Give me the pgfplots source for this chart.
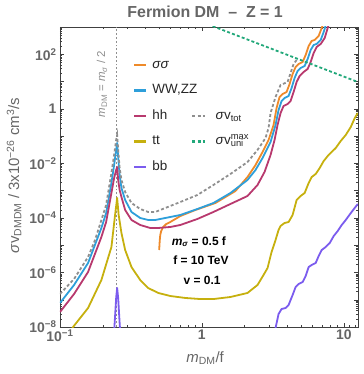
\documentclass[border=0pt]{standalone}
\usepackage{fontspec}
\setmainfont{Liberation Sans}
\usepackage{pgfplots}
\pgfplotsset{compat=1.18}
\definecolor{corange}{HTML}{EE8A2A}
\definecolor{cblue}{HTML}{2E9FDA}
\definecolor{cmag}{HTML}{B8396E}
\definecolor{cyel}{HTML}{C6B00E}
\definecolor{cpur}{HTML}{7B5CEE}
\definecolor{cgreen}{HTML}{22A87A}
\definecolor{cgray}{HTML}{8F8F8F}
\definecolor{labgray}{HTML}{666666}
\begin{document}
\begin{tikzpicture}
\path[use as bounding box] (-60bp,-47bp) rectangle (304bp,327bp);
\begin{axis}[
  scale only axis, width=298bp, height=300bp,
  at={(0,0)}, anchor=south west,
  xmode=log, ymode=log, xmin=0.1, xmax=12.6, ymin=1e-8, ymax=1000,
  clip mode=individual,
  legend style={draw=none, fill=none, inner sep=0pt, row sep=13bp,
      nodes={inner sep=0pt, text height=9.5bp, text depth=3bp,
        font=\fontsize{13.5}{15}\selectfont, text=black!85},
      at={(axis description cs:0.245,0.895)}, anchor=north west,
      /tikz/every odd column/.append style={column sep=5bp}},
  legend cell align=left,
  axis line style={black!75},
  every tick/.style={black!75},
  major tick length=4bp, minor tick length=2.5bp,
  xtick={0.1,1,10},
  xticklabels={10\textsuperscript{−1},1,10},
  minor xtick={0.2,0.3,0.4,0.5,0.6,0.7,0.8,0.9,2,3,4,5,6,7,8,9,11,12},
  ytick={1e-8,1e-7,1e-6,1e-5,1e-4,1e-3,1e-2,1e-1,1,10,100,1000},
  yticklabels={10\textsuperscript{−8},{},10\textsuperscript{−6},{},10\textsuperscript{−4},{},10\textsuperscript{−2},{},1,{},10\textsuperscript{2},{}},
  minor ytick={2e-8,3e-8,4e-8,5e-8,6e-8,7e-8,8e-8,9e-8,
    2e-7,3e-7,4e-7,5e-7,6e-7,7e-7,8e-7,9e-7,
    2e-6,3e-6,4e-6,5e-6,6e-6,7e-6,8e-6,9e-6,
    2e-5,3e-5,4e-5,5e-5,6e-5,7e-5,8e-5,9e-5,
    2e-4,3e-4,4e-4,5e-4,6e-4,7e-4,8e-4,9e-4,
    2e-3,3e-3,4e-3,5e-3,6e-3,7e-3,8e-3,9e-3,
    2e-2,3e-2,4e-2,5e-2,6e-2,7e-2,8e-2,9e-2,
    0.2,0.3,0.4,0.5,0.6,0.7,0.8,0.9,
    2,3,4,5,6,7,8,9,20,30,40,50,60,70,80,90,200,300,400,500,600,700,800,900},
  tick label style={font=\fontsize{14}{16}\selectfont\bfseries, text=labgray},
  xticklabel style={yshift=1bp},
  legend image code/.code={\draw[#1, line width=2.2bp] (0bp,0bp) -- (12bp,0bp);},
  every axis plot/.append style={line width=1.8bp, line join=round},
]
\addplot[cgray, dotted, line width=0.9bp, forget plot] coordinates {(0.25,1e-8) (0.25,1000)};

% sigma sigma
\addplot[corange] coordinates {
(0.5000,6.66e-6) (0.505,1.55e-5) (0.509,2.37e-5) (0.517,3.31e-5) (0.534,4.65e-5)
(0.561,5.98e-5) (0.599,7.08e-5) (0.705,1.17e-4) (0.900,1.95e-4) (1.246,3.52e-4)
(1.725,9.70e-4) (2.097,3.16e-3) (2.388,8.71e-3) (2.677,2.61e-2) (2.951,7.20e-2)
(3.201,0.255) (3.361,1.07) (3.529,2.72) (3.706,3.50) (3.955,4.15) (4.153,8.15)
(4.361,18.9) (4.579,34.2) (4.808,44.0) (5.131,52.1) (5.389,94.2) (5.658,201)
(5.941,308) (6.239,334) (6.658,469) (6.991,921) (7.341,1810)
};
\addlegendentry{\textit{σσ}}

% WW,ZZ
\addplot[cblue] coordinates {
(0.1,7.59e-8) (0.1256,3.47e-7) (0.1577,2.22e-6) (0.1958,4.27e-5) (0.2114,1.51e-4)
(0.2304,1.91e-3) (0.2407,8.71e-3) (0.2488,3.10e-2) (0.2528,5.59e-2)
(0.2570,1.71e-2) (0.2633,3.75e-3) (0.2711,1.25e-3) (0.2879,4.54e-4) (0.3191,1.65e-4)
(0.3675,9.93e-5) (0.4185,8.39e-5) (0.4691,8.39e-5) (0.5521,9.93e-5) (0.7049,1.28e-4)
(0.9295,2.12e-4) (1.206,3.52e-4) (1.590,8.19e-4) (2.097,2.46e-3) (2.388,5.71e-3)
(2.677,1.57e-2) (3.049,6.08e-2) (3.306,0.255) (3.472,0.906) (3.646,1.94) (3.828,2.50)
(4.086,2.96) (4.290,5.81) (4.505,13.5) (4.730,24.4) (4.967,31.4) (5.301,37.2)
(5.567,67.3) (5.846,144) (6.138,219) (6.445,239) (6.879,334) (7.223,658) (7.584,1530)
};
\addlegendentry{WW,ZZ}

% hh
\addplot[cmag] coordinates {
(0.1,3.55e-8) (0.1256,1.62e-7) (0.1577,1.04e-6) (0.1958,2.00e-5) (0.2114,7.08e-5)
(0.2304,8.19e-4) (0.2407,2.91e-3) (0.2488,5.71e-3) (0.2528,7.36e-3)
(0.2570,2.46e-3) (0.2633,1.06e-3) (0.2711,5.85e-4) (0.2879,1.95e-4) (0.3191,8.39e-5)
(0.3675,5.50e-5) (0.4326,4.27e-5) (0.4928,4.27e-5) (0.5988,4.65e-5) (0.7049,5.50e-5)
(0.9295,9.13e-5) (1.206,1.65e-4) (1.590,3.24e-4) (2.097,6.36e-4) (2.467,1.61e-3)
(2.765,4.83e-3) (3.049,2.03e-2) (3.253,7.20e-2) (3.415,0.255) (3.587,0.703)
(3.767,1.27) (4.020,1.50) (4.221,1.94) (4.432,4.15) (4.654,9.64) (4.887,16.0)
(5.216,22.4) (5.567,28.9) (5.846,52.1) (6.138,112) (6.445,185) (6.879,239)
(7.341,396) (7.708,921) (8.093,2140)
};
\addlegendentry{hh}

% tt
\addplot[cyel] coordinates {
(0.1,1.44e-9) (0.1236,1e-8) (0.1577,4.97e-8) (0.1958,5.29e-7) (0.2304,8.59e-6)
(0.2435,1.08e-4) (0.2528,5.37e-4)
(0.2591,1.28e-4) (0.2711,2.80e-5) (0.2879,6.66e-6) (0.3191,1.58e-6) (0.3675,5.29e-7)
(0.4185,2.69e-7) (0.4928,1.77e-7) (0.5988,1.37e-7) (0.7646,1.16e-7) (0.9759,1.06e-7)
(1.206,1.06e-7) (1.590,1.26e-7) (2.097,1.77e-7) (2.467,3.47e-7) (2.720,8.07e-7)
(2.904,1.46e-6) (3.099,5.62e-6) (3.306,1.55e-5) (3.472,3.61e-5) (3.587,5.06e-5)
(3.828,6.51e-5) (4.086,7.08e-5) (4.361,1.28e-4) (4.654,4.54e-4) (4.967,6.36e-4)
(5.301,8.19e-4) (5.658,1.91e-3) (5.941,3.16e-3) (6.341,4.08e-3) (6.768,6.76e-3)
(7.223,1.22e-2) (7.708,1.86e-2) (8.226,2.61e-2) (8.779,3.66e-2) (9.524,6.62e-2)
(10.33,0.110) (11.21,0.216) (11.96,0.461) (12.56,0.703)
};
\addlegendentry{tt}

% bb
\addplot[cpur] coordinates {
(0.2388,3.33e-9) (0.2447,2.75e-8) (0.2488,1.16e-7) (0.2528,2.69e-7) (0.2570,1.16e-7)
(0.2612,2.75e-8) (0.2677,3.33e-9)
};
\addlegendentry{bb}
\addplot[cpur, forget plot] coordinates {
(3.149,2.19e-9) (3.306,9.19e-9) (3.472,3.00e-8) (3.646,4.57e-8) (3.891,4.97e-8)
(4.086,6.41e-8) (4.361,1.49e-7) (4.579,2.93e-7) (4.808,3.78e-7) (5.131,4.47e-7)
(5.389,7.41e-7) (5.658,1.58e-6) (5.941,1.88e-6) (6.341,2.22e-6) (6.658,4.02e-6)
(6.991,6.66e-6) (7.462,8.59e-6) (7.963,1.20e-5) (8.497,2.17e-5) (9.070,3.31e-5)
(9.680,5.50e-5) (10.33,8.39e-5) (11.21,1.51e-4) (12.56,3.24e-4)
};

\node[font=\fontsize{12}{14}\selectfont\bfseries, anchor=center] at (axis description cs:0.466,0.284) {\textit{m}\textsubscript{\textit{σ}} = 0.5 f};
\node[font=\fontsize{12}{14}\selectfont\bfseries, anchor=center] at (axis description cs:0.473,0.221) {f = 10 TeV};
\node[font=\fontsize{12}{14}\selectfont\bfseries, anchor=center] at (axis description cs:0.477,0.157) {v = 0.1};
\node[rotate=90, text=cgray, font=\fontsize{11.5}{13}\selectfont, anchor=center] at (axis description cs:0.141,0.81) {\textit{m}\textsubscript{DM} = \textit{m}\textsubscript{\textit{σ}} / 2};
\node[text=labgray, font=\fontsize{16}{18}\selectfont\bfseries, anchor=center] at (axis description cs:0.487,1.05) {Fermion DM \ – \ Z = 1};
\node[text=labgray, font=\fontsize{15}{17}\selectfont, anchor=center, rotate=90] at (axis description cs:-0.154,0.505) {\textit{σ}v\textsubscript{DMDM} / 3x10\textsuperscript{−26} cm\textsuperscript{3}/s};
\node[text=labgray, font=\fontsize{15}{17}\selectfont, anchor=center] at (axis description cs:0.487,-0.103) {\textit{m}\textsubscript{DM}/f};
\end{axis}

\begin{axis}[
  scale only axis, width=298bp, height=300bp,
  at={(0,0)}, anchor=south west,
  xmode=log, ymode=log, xmin=0.1, xmax=12.6, ymin=1e-8, ymax=1000,
  hide axis,
  legend style={draw=none, fill=none, inner sep=0pt, row sep=13bp,
      nodes={inner sep=0pt, text height=9.5bp, text depth=3bp,
        font=\fontsize{13.5}{15}\selectfont, text=black!85},
      at={(axis description cs:0.44,0.725)}, anchor=north west,
      /tikz/every odd column/.append style={column sep=9bp}},
  legend cell align=left,
  legend image code/.code={\draw[#1, line width=2.2bp] (0bp,0bp) -- (13bp,0bp);},
  every axis plot/.append style={line width=1.8bp},
]
\addplot[cgray, dash pattern=on 3bp off 2.2bp] coordinates {
(0.1000,1.62e-7) (0.1256,5.75e-7) (0.1577,3.69e-6) (0.1767,1.55e-5) (0.1958,8.39e-5)
(0.2114,2.98e-4) (0.2304,4.44e-3) (0.2407,2.03e-2) (0.2488,7.20e-2) (0.2528,0.110)
(0.2570,3.10e-2) (0.2633,6.76e-3) (0.2711,2.46e-3) (0.2879,8.91e-4) (0.3191,3.52e-4)
(0.3675,2.12e-4) (0.4185,1.65e-4) (0.4691,1.65e-4) (0.5521,2.31e-4) (0.7049,3.83e-4)
(0.9295,6.92e-4) (1.206,1.61e-3) (1.590,4.08e-3) (2.097,1.12e-2) (2.467,3.10e-2)
(2.811,8.53e-2) (2.951,0.198) (3.049,0.703) (3.306,2.72) (3.587,7.48) (4.020,9.64)
(4.221,20.6) (4.432,44.0) (4.654,61.8)
};
\addlegendentry{\textit{σ}v\textsubscript{tot}}
\addplot[cgreen, dash pattern=on 3bp off 2.2bp] coordinates {(1.1,1260) (12.56,9.64)};
\addlegendentry{\textit{σ}v\rlap{\textsuperscript{max}}\textsubscript{uni}}
\end{axis}
\end{tikzpicture}
\end{document}
